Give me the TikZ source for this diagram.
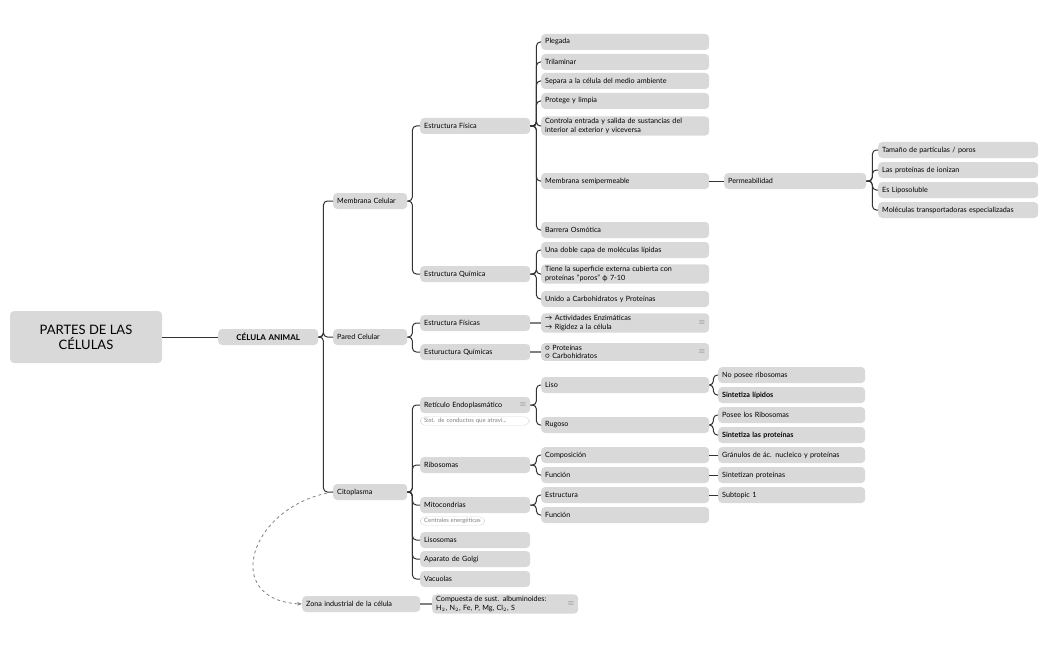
\documentclass[tikz,border=0pt]{standalone}
\usepackage{fontspec}
\setmainfont{Lato}
\usetikzlibrary{arrows.meta}
\definecolor{bx}{HTML}{D9D9D9}
\definecolor{ln}{HTML}{333333}
\begin{document}
\begin{tikzpicture}[x=1pt,y=-1pt,
  box/.style={fill=bx,rounded corners=4,anchor=west,inner xsep=4,inner ysep=2,text width=#1,align=left,minimum height=16,font=\fontsize{7.2}{8.6}\selectfont},
  note/.style={draw=bx,fill=white,rounded corners=5,anchor=west,inner xsep=4,inner ysep=1.5,text=gray,align=left,font=\fontsize{6}{7}\selectfont},
  con/.style={draw=ln,line width=1,rounded corners=4},
  ic/.style={anchor=east,inner sep=0,font=\fontsize{8}{8}\selectfont,text=gray}]
\useasboundingbox (0,0) rectangle (1049,650);
% root
\node[fill=bx,rounded corners=4,minimum width=152,minimum height=52,align=center,font=\fontsize{13}{15}\selectfont] (root) at (86,337) {PARTES DE LAS\\CÉLULAS};
\node[box=92,font=\bfseries\fontsize{8}{9}\selectfont,align=center] (ca) at (218,337) {CÉLULA ANIMAL};
\node[box=66] (mc) at (333,201) {Membrana Celular};
\node[box=66] (pc) at (333,337) {Pared Celular};
\node[box=66] (ci) at (333,492) {Citoplasma};
% membrana
\node[box=102] (ef) at (420,126) {Estructura Física};
\node[box=102] (eq) at (420,274) {Estructura Química};
\node[box=160] (l1) at (541,42) {Plegada};
\node[box=160] (l2) at (541,62) {Trilaminar};
\node[box=160] (l3) at (541,81) {Separa a la célula del medio ambiente};
\node[box=160] (l4) at (541,101) {Protege y limpia};
\node[box=160] (l5) at (541,126) {Controla entrada y salida de sustancias del\\interior al exterior y viceversa};
\node[box=160] (l6) at (541,181) {Membrana semipermeable};
\node[box=160] (l7) at (541,230) {Barrera Osmótica};
\node[box=160] (q1) at (541,250) {Una doble capa de moléculas lípidas};
\node[box=160] (q2) at (541,274) {Tiene la superficie externa cubierta con\\proteínas "poros" ϕ 7-10};
\node[box=160] (q3) at (541,299) {Unido a Carbohidratos y Proteínas};
\node[box=134] (pe) at (724,181) {Permeabilidad};
\node[box=152] (p1) at (878,150) {Tamaño de partículas / poros};
\node[box=152] (p2) at (878,170) {Las proteínas de ionizan};
\node[box=152] (p3) at (878,190) {Es Liposoluble};
\node[box=152] (p4) at (878,210) {Moléculas transportadoras especializadas};
% pared
\node[box=102] (pf) at (420,323) {Estructura Físicas};
\node[box=102] (pq) at (420,352) {Estuructura Químicas};
\node[box=160] (pf1) at (541,323) {→ Actividades Enzimáticas\\→ Rigidez a la célula};
\node[box=160] (pq1) at (541,352) {○ Proteínas\\○ Carbohidratos};
\node[ic] at ([xshift=-4]pf1.east) {$\equiv$};
\node[ic] at ([xshift=-4]pq1.east) {$\equiv$};
% citoplasma
\node[box=102] (re) at (420,405) {Retículo Endoplasmático};
\node[ic] at ([xshift=-4]re.east) {$\equiv$};
\node[note,text width=101] (ren) at (420,421) {Sist. de conductos que atravi...};
\node[box=102] (ri) at (420,465) {Ribosomas};
\node[box=102] (mi) at (420,505) {Mitocondrias};
\node[note] (min) at (420,521) {Centrales energéticas};
\node[box=102] (li) at (420,540) {Lisosomas};
\node[box=102] (ag) at (420,559) {Aparato de Golgi};
\node[box=102] (va) at (420,579) {Vacuolas};
\node[box=160] (ls) at (541,385) {Liso};
\node[box=160] (rg) at (541,425) {Rugoso};
\node[box=160] (co) at (541,455) {Composición};
\node[box=160] (fu) at (541,475) {Función};
\node[box=160] (es) at (541,495) {Estructura};
\node[box=160] (fu2) at (541,515) {Función};
\node[box=139] (s1) at (718,375) {No posee ribosomas};
\node[box=139,font=\bfseries\fontsize{7.2}{8.6}\selectfont] (s2) at (718,395) {Sintetiza lípidos};
\node[box=139] (s3) at (718,415) {Posee los Ribosomas};
\node[box=139,font=\bfseries\fontsize{7.2}{8.6}\selectfont] (s4) at (718,435) {Sintetiza las proteínas};
\node[box=139] (s5) at (718,455) {Gránulos de ác. nucleico y proteínas};
\node[box=139] (s6) at (718,475) {Sintetizan proteínas};
\node[box=139] (s7) at (718,495) {Subtopic 1};
% zona
\node[box=110] (zo) at (302,604) {Zona industrial de la célula};
\node[box=138] (zc) at (432,604) {Compuesta de sust. albuminoides:\\H$_2$, N$_2$, Fe, P, Mg, Cl$_2$, S};
\node[ic] at ([xshift=-4]zc.east) {$\equiv$};
% connectors
\draw[con] (root.east) -- (ca.west);
\foreach \c in {mc,pc,ci} \draw[con] (ca.east) -- ++(5,0) |- (\c.west);
\foreach \c in {ef,eq} \draw[con] (mc.east) -- ++(5,0) |- (\c.west);
\foreach \c in {l1,l2,l3,l4,l5,l6,l7} \draw[con] (ef.east) -- ++(6,0) |- (\c.west);
\foreach \c in {q1,q2,q3} \draw[con] (eq.east) -- ++(6,0) |- (\c.west);
\draw[con] (l6.east) -- (pe.west);
\foreach \c in {p1,p2,p3,p4} \draw[con] (pe.east) -- ++(6,0) |- (\c.west);
\foreach \c in {pf,pq} \draw[con] (pc.east) -- ++(5,0) |- (\c.west);
\draw[draw=gray,line width=2] (pf.east) -- (pf1.west);
\draw[draw=gray,line width=2] (pq.east) -- (pq1.west);
\foreach \c in {re,ri,mi,li,ag,va} \draw[con] (ci.east) -- ++(5,0) |- (\c.west);
\foreach \c in {ls,rg} \draw[con] (re.east) -- ++(6,0) |- (\c.west);
\foreach \c in {co,fu} \draw[con] (ri.east) -- ++(6,0) |- (\c.west);
\foreach \c in {es,fu2} \draw[con] (mi.east) -- ++(6,0) |- (\c.west);
\foreach \c in {s1,s2} \draw[con] (ls.east) -- ++(4,0) |- (\c.west);
\foreach \c in {s3,s4} \draw[con] (rg.east) -- ++(4,0) |- (\c.west);
\draw[con] (co.east) -- (s5.west);
\draw[con] (fu.east) -- (s6.west);
\draw[con] (es.east) -- (s7.west);
\draw[draw=gray,line width=2] (zo.east) -- (zc.west);
\draw[gray,dashed,line width=0.8,-{Stealth[length=5]}] (ci.west) .. controls (250,505) and (220,600) .. (zo.west);
\end{tikzpicture}
\end{document}
